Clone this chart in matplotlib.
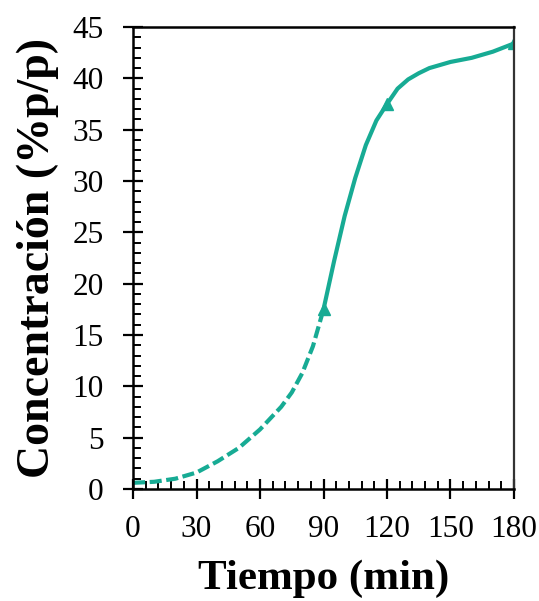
import matplotlib
matplotlib.use("Agg")
import matplotlib.pyplot as plt
from matplotlib.ticker import MultipleLocator

plt.rcParams['font.family'] = ['Liberation Serif', 'DejaVu Serif']

# dashed part (0 to 90 min)
t_dash = [0, 10, 20, 30, 40, 50, 60, 70, 75, 80, 85, 90]
c_dash = [0.6, 0.7, 1.0, 1.6, 2.7, 4.0, 5.8, 8.0, 9.4, 11.3, 13.9, 17.5]

# solid part (90 to 180 min)
t_sol = [90, 95, 100, 105, 110, 115, 120, 125, 130, 135, 140, 145, 150, 155, 160, 165, 170, 175, 180]
c_sol = [17.5, 22.2, 26.6, 30.3, 33.5, 35.9, 37.5, 39.0, 39.9, 40.5, 41.0, 41.3, 41.6, 41.8, 42.0, 42.3, 42.6, 43.0, 43.4]

# measured points with markers
t_pts = [90, 120, 180]
c_pts = [17.5, 37.5, 43.4]

color = '#17ab94'

fig = plt.figure(figsize=(5.39, 6.01), dpi=100)
ax = fig.add_axes([0.2468, 0.1864, 0.9536 - 0.2468, 0.955 - 0.1864])

ax.plot(t_dash, c_dash, color=color, lw=3.0, ls=(0, (2.9, 1.1)), solid_capstyle='butt')
ax.plot(t_sol, c_sol, color=color, lw=3.0, solid_joinstyle='round')
ax.plot(t_pts, c_pts, ls='none', marker='^', ms=8, color=color)

ax.set_xlim(0, 180)
ax.set_ylim(0, 45)
ax.xaxis.set_major_locator(MultipleLocator(30))
ax.xaxis.set_minor_locator(MultipleLocator(6))
ax.yaxis.set_major_locator(MultipleLocator(5))
ax.yaxis.set_minor_locator(MultipleLocator(1))

ax.tick_params(which='major', direction='inout', length=14, width=1.6, labelsize=22.5)
ax.tick_params(which='minor', direction='in', length=6, width=1.4)
ax.tick_params(axis='x', which='major', pad=12)
ax.tick_params(axis='y', which='major', pad=14)

for s in ['left', 'bottom', 'top']:
    ax.spines[s].set_linewidth(1.8)
    ax.spines[s].set_color('black')
ax.spines['right'].set_linewidth(1.6)
ax.spines['right'].set_color('#333333')

ax.set_xlabel('Tiempo (min)', fontsize=31, fontweight='bold', labelpad=11)
ax.set_ylabel('Concentración (%p/p)', fontsize=33, fontweight='bold', labelpad=10)

fig.savefig('out.png', dpi=100)
